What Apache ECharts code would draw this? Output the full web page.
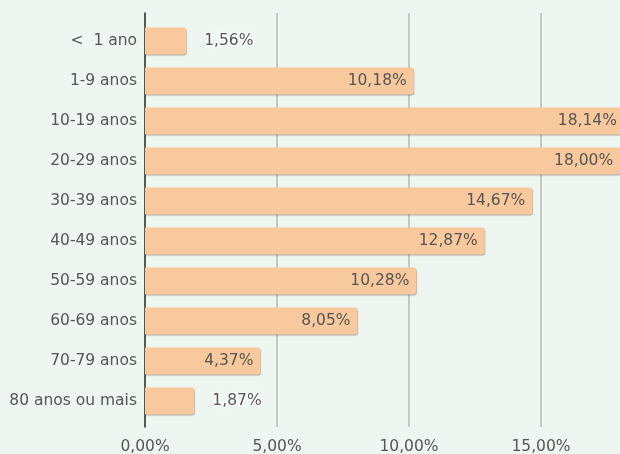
<!DOCTYPE html>
<html>
<head>
<meta charset="utf-8">
<script src="https://cdn.jsdelivr.net/npm/echarts@6/dist/echarts.min.js"></script>
<style>
  html, body { margin: 0; padding: 0; background: #eef6f2; }
  #chart { width: 620px; height: 454px; }
</style>
</head>
<body>
<div id="chart"></div>
<script>
const categories = ['<  1 ano', '1-9 anos', '10-19 anos', '20-29 anos', '30-39 anos',
  '40-49 anos', '50-59 anos', '60-69 anos', '70-79 anos', '80 anos ou mais'];
const values = [1.56, 10.18, 18.14, 18.00, 14.67, 12.87, 10.28, 8.05, 4.37, 1.87];
const xTicks = [0, 5, 10, 15];

const FONT = 'DejaVu Sans';
const TEXT = '#555';
const X_MAX = 19;
const PLOT_W = X_MAX * 26.4;

const fmt = (v) => v.toFixed(2).replace('.', ',') + '%';

const seriesData = values.map((v) => {
  const small = v < 3;
  return {
    value: v,
    label: small
      ? { position: 'right', distance: 18, textBorderColor: '#fff', textBorderWidth: 2.5 }
      : { position: 'insideRight', distance: 7 },
  };
});

const chart = echarts.init(document.getElementById('chart'), null, { renderer: 'canvas' });
chart.setOption({
  backgroundColor: '#eef6f2',
  animation: false,
  grid: [
    // bars
    { left: 145, top: 21, height: 400, width: PLOT_W, outerBoundsMode: 'none', containLabel: false },
    // gridlines + axis line, slightly taller than the bar area
    { left: 145, top: 13, height: 414, width: PLOT_W, outerBoundsMode: 'none', containLabel: false },
  ],
  xAxis: [{
    gridIndex: 0,
    type: 'value',
    min: 0, max: X_MAX, interval: 5,
    axisLine: { show: false },
    axisTick: { show: false },
    splitLine: { show: false },
    axisLabel: { show: false },
  }, {
    gridIndex: 1,
    type: 'value',
    min: 0, max: X_MAX, interval: 5,
    axisLine: { show: false },
    axisTick: { show: false },
    splitLine: { lineStyle: { color: '#c4c8c6', width: 2 } },
    axisLabel: {
      color: TEXT, fontFamily: FONT, fontSize: 15.5, margin: 12,
      formatter: (v) => xTicks.includes(v) ? fmt(v) : '',
    },
  }],
  yAxis: [{
    gridIndex: 0,
    type: 'category',
    inverse: true,
    data: categories,
    axisTick: { show: false },
    axisLine: { show: false },
    axisLabel: { color: TEXT, fontFamily: FONT, fontSize: 15.5, margin: 8 },
  }, {
    gridIndex: 1,
    type: 'value',
    min: 0, max: 1,
    axisTick: { show: false },
    axisLabel: { show: false },
    splitLine: { show: false },
    axisLine: { show: true, lineStyle: { color: '#333', width: 1.5 } },
  }],
  series: [{
    type: 'bar',
    xAxisIndex: 0,
    yAxisIndex: 0,
    data: seriesData,
    barWidth: 27,
    z: 3,
    itemStyle: {
      color: '#f8c99c',
      borderRadius: [0, 3, 3, 0],
      shadowColor: 'rgba(0,0,0,0.3)',
      shadowBlur: 1,
      shadowOffsetX: 0.5,
      shadowOffsetY: 1,
    },
    label: {
      show: true,
      color: TEXT,
      fontFamily: FONT,
      fontSize: 15.5,
      formatter: (p) => fmt(p.value),
    },
  }],
});
</script>
</body>
</html>
